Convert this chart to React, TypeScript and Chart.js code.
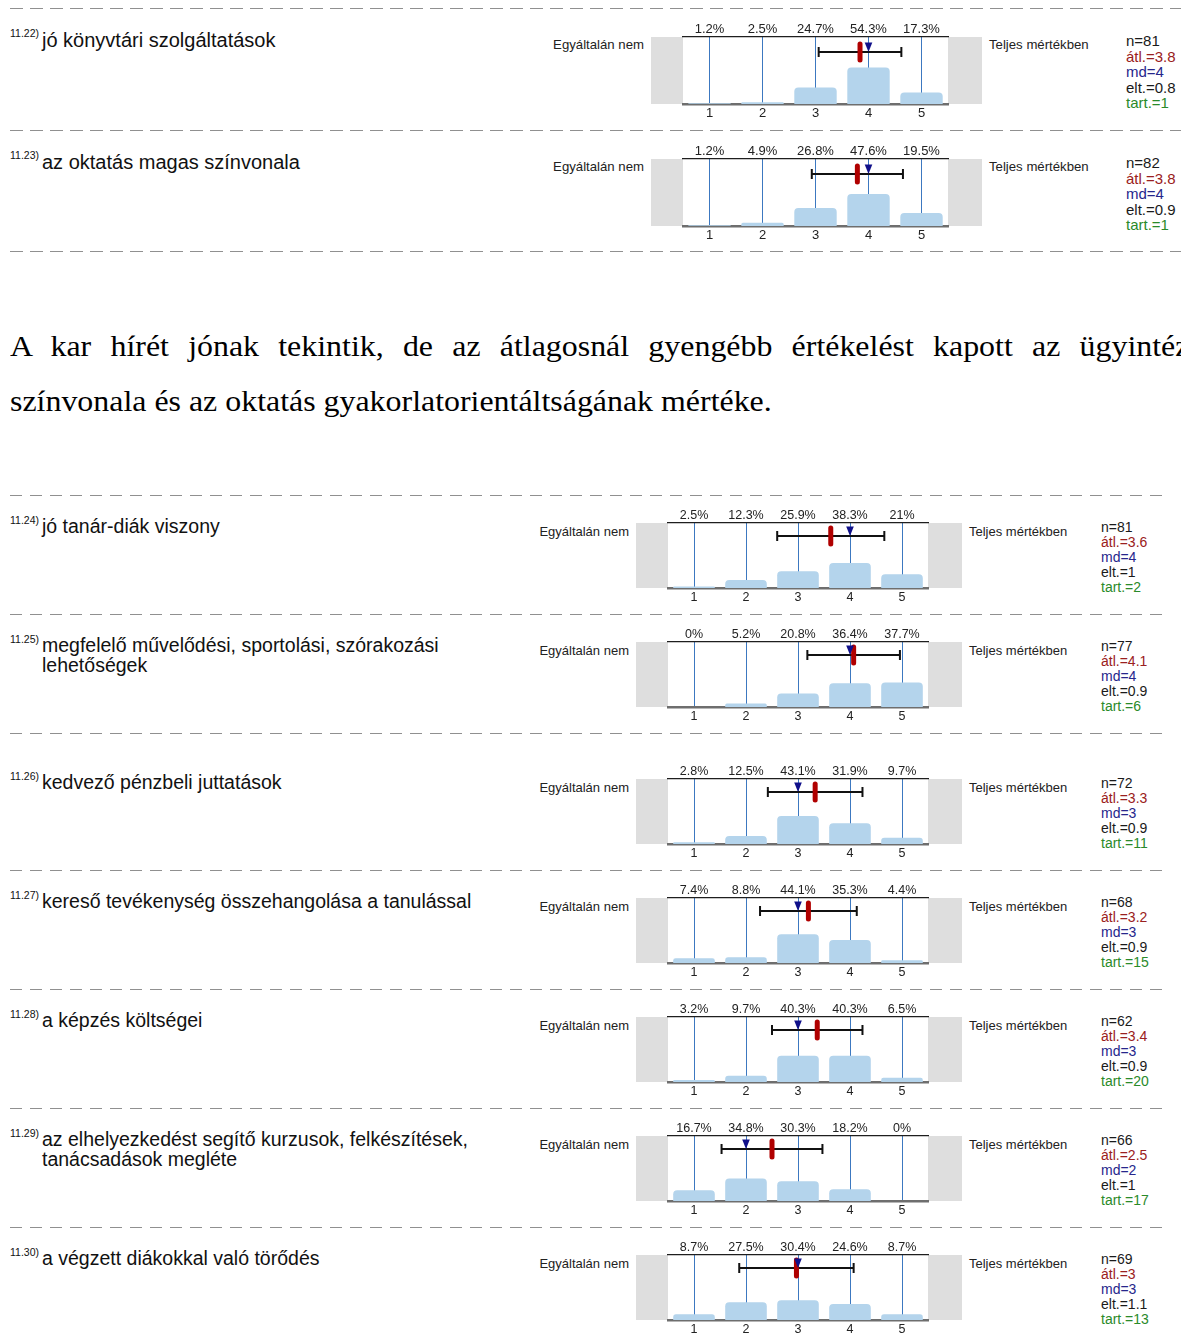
import React, { useEffect, useRef } from 'react';
import { Chart, registerables } from 'chart.js';

Chart.register(...registerables);

const SANS = "'Liberation Sans', Arial, sans-serif";
const SERIF = "'Liberation Serif', 'Times New Roman', serif";
Chart.defaults.font.family = SANS;

// ---------------- data ----------------
const itemCodes = ['11.22', '11.23', '11.24', '11.25', '11.26', '11.27', '11.28', '11.29', '11.30'];
const itemLabels: string[][] = [
  ['jó könyvtári szolgáltatások'],
  ['az oktatás magas színvonala'],
  ['jó tanár-diák viszony'],
  ['megfelelő művelődési, sportolási, szórakozási', 'lehetőségek'],
  ['kedvező pénzbeli juttatások'],
  ['kereső tevékenység összehangolása a tanulással'],
  ['a képzés költségei'],
  ['az elhelyezkedést segítő kurzusok, felkészítések,', 'tanácsadások megléte'],
  ['a végzett diákokkal való törődés'],
];
const scaleLabels = ['1', '2', '3', '4', '5'];
const leftAnchor = 'Egyáltalán nem';
const rightAnchor = 'Teljes mértékben';
const percents: number[][] = [
  [1.2, 2.5, 24.7, 54.3, 17.3],
  [1.2, 4.9, 26.8, 47.6, 19.5],
  [2.5, 12.3, 25.9, 38.3, 21],
  [0, 5.2, 20.8, 36.4, 37.7],
  [2.8, 12.5, 43.1, 31.9, 9.7],
  [7.4, 8.8, 44.1, 35.3, 4.4],
  [3.2, 9.7, 40.3, 40.3, 6.5],
  [16.7, 34.8, 30.3, 18.2, 0],
  [8.7, 27.5, 30.4, 24.6, 8.7],
];
const means = [3.84, 3.79, 3.63, 4.07, 3.33, 3.2, 3.37, 2.5, 2.97];
const sds = [0.78, 0.86, 1.03, 0.89, 0.91, 0.93, 0.87, 0.97, 1.1];
const medians = [4, 4, 4, 4, 3, 3, 3, 2, 3];
const nValues = [81, 82, 81, 77, 72, 68, 62, 66, 69];
const meanLabels = ['3.8', '3.8', '3.6', '4.1', '3.3', '3.2', '3.4', '2.5', '3'];
const medianLabels = ['4', '4', '4', '4', '3', '3', '3', '2', '3'];
const sdLabels = ['0.8', '0.9', '1', '0.9', '0.9', '0.9', '0.9', '1', '1.1'];
const abstainValues = [1, 1, 2, 6, 11, 15, 20, 17, 13];
const paragraphLine1 = 'A kar hírét jónak tekintik, de az átlagosnál gyengébb értékelést kapott az ügyintézés';
const paragraphLine2 = 'színvonala és az oktatás gyakorlatorientáltságának mértéke.';

// ---------------- layout (page px) ----------------
type Geom = {
  plotLeft: number; plotW: number; plotH: number; grayL: number; grayR: number;
  tickFont: number; errValue: number; statsX: number; statsFont: number; statsLH: number;
  anchorFont: number; labelDy: number; supDy: number; anchorDy: number; statsDy: number; labelSize: number;
};
const GEOM_TOP: Geom = {
  plotLeft: 683, plotW: 265, plotH: 67, grayL: 32, grayR: 34, tickFont: 13, errValue: 77.5,
  statsX: 1126, statsFont: 15, statsLH: 15.5, anchorFont: 13.2, labelDy: 9.7, supDy: -0.3, anchorDy: 12, statsDy: 9,
  labelSize: 20,
};
const GEOM_BOT: Geom = {
  plotLeft: 668, plotW: 260, plotH: 65, grayL: 32, grayR: 34, tickFont: 12.5, errValue: 80,
  statsX: 1101, statsFont: 14, statsLH: 15.2, anchorFont: 13, labelDy: 10, supDy: 0.5, anchorDy: 12.7, statsDy: 9,
  labelSize: 19.5,
};
const itemTops = [37, 159, 523, 642, 779, 898, 1017, 1136, 1255];
const topDashes = [8, 130, 251];
const botDashes = [495, 614, 733, 870, 989, 1108, 1227];
const AX_TOP = 18;
const AX_BOT = 18;
const OFF = 8; // body margin

const geomOf = (i: number) => (i < 2 ? GEOM_TOP : GEOM_BOT);

function topForBaseline(baseline: number, size: number, lh: number, asc = 0.905, desc = 0.212) {
  return baseline - ((lh - (asc + desc) * size) / 2 + asc * size);
}

const markerPlugin = {
  id: 'markers',
  beforeDraw(chart: any, _args: any, o: any) {
    const ca = chart.chartArea;
    const ctx = chart.ctx;
    ctx.save();
    ctx.fillStyle = '#dedede';
    ctx.fillRect(ca.left - o.grayL, ca.top, o.grayL, ca.bottom - ca.top);
    ctx.fillRect(ca.right, ca.top, o.grayR, ca.bottom - ca.top);
    ctx.restore();
  },
  afterDraw(chart: any, _args: any, o: any) {
    const xs = chart.scales.x;
    const ys = chart.scales.y;
    const ctx = chart.ctx;
    const y = ys.getPixelForValue(o.errValue);
    const x0 = xs.getPixelForValue(o.mean - o.sd - 1);
    const x1 = xs.getPixelForValue(o.mean + o.sd - 1);
    ctx.save();
    ctx.strokeStyle = '#111';
    ctx.lineWidth = 2;
    ctx.beginPath();
    ctx.moveTo(x0, y); ctx.lineTo(x1, y);
    ctx.moveTo(x0, y - 5); ctx.lineTo(x0, y + 5);
    ctx.moveTo(x1, y - 5); ctx.lineTo(x1, y + 5);
    ctx.stroke();
    const xm = xs.getPixelForValue(o.mean - 1);
    ctx.strokeStyle = '#b00000';
    ctx.lineWidth = 5;
    ctx.lineCap = 'round';
    ctx.beginPath();
    ctx.moveTo(xm, y - 8); ctx.lineTo(xm, y + 8);
    ctx.stroke();
    const xd = xs.getPixelForValue(o.median - 1);
    ctx.fillStyle = '#10108a';
    ctx.beginPath();
    ctx.moveTo(xd - 3.8, y - 9.5);
    ctx.lineTo(xd + 3.8, y - 9.5);
    ctx.lineTo(xd, y);
    ctx.closePath();
    ctx.fill();
    ctx.restore();
  },
};

function ItemChart({ i }: { i: number }) {
  const ref = useRef<HTMLCanvasElement>(null);
  const g = geomOf(i);
  const W = g.plotW + g.grayL + g.grayR + 12;
  const H = AX_TOP + g.plotH + AX_BOT;
  useEffect(() => {
    const pct = percents[i];
    const tickFont = { family: SANS, size: g.tickFont };
    const chart = new Chart(ref.current as HTMLCanvasElement, {
      type: 'bar',
      data: {
        labels: scaleLabels,
        datasets: [
          {
            data: pct,
            backgroundColor: 'rgb(180,212,236)',
            borderWidth: 0,
            borderRadius: { topLeft: 4, topRight: 4, bottomLeft: 0, bottomRight: 0 },
            borderSkipped: 'bottom',
            barPercentage: 0.8,
            categoryPercentage: 1,
          },
        ],
      },
      options: {
        responsive: false,
        animation: false,
        events: [],
        layout: { padding: { left: g.grayL + 6, right: g.grayR + 6, top: 0, bottom: 0 } },
        plugins: {
          legend: { display: false },
          tooltip: { enabled: false },
          markers: { mean: means[i], sd: sds[i], median: medians[i], errValue: g.errValue, grayL: g.grayL, grayR: g.grayR },
        } as any,
        scales: {
          x: {
            type: 'category',
            position: 'bottom',
            offset: true,
            z: 1,
            grid: { offset: false, color: '#3c78c0', lineWidth: 1, drawTicks: false },
            border: { display: true, color: '#6e6e6e', width: 2.5 },
            ticks: { padding: 2, color: '#222', font: tickFont, maxRotation: 0, minRotation: 0, autoSkip: false },
            afterFit: (s: any) => { s.height = AX_BOT; },
          },
          x2: {
            type: 'category',
            position: 'top',
            labels: pct.map((v) => `${v}%`),
            offset: true,
            grid: { display: false, drawTicks: false },
            border: { display: true, color: '#1e1e1e', width: 1.3 },
            ticks: { padding: 0, color: '#222', font: tickFont, maxRotation: 0, minRotation: 0, autoSkip: false },
            afterFit: (s: any) => { s.height = AX_TOP; },
          },
          y: { display: false, min: 0, max: 100 },
        } as any,
      },
      plugins: [markerPlugin as any],
    });
    return () => chart.destroy();
  }, [i]);
  return (
    <canvas
      ref={ref}
      width={W}
      height={H}
      style={{
        position: 'absolute',
        left: g.plotLeft - g.grayL - 6 - OFF,
        top: itemTops[i] - AX_TOP - OFF,
        width: W,
        height: H,
      }}
    />
  );
}

function ItemText({ i }: { i: number }) {
  const g = geomOf(i);
  const T = itemTops[i];
  const labelSize = g.labelSize;
  const labelLH = 20;
  const supSize = 10.5;
  const supLH = 12;
  const grayLeftX = g.plotLeft - g.grayL;
  const grayRightX = g.plotLeft + g.plotW + g.grayR;
  const anchorLH = 15;
  const statLines: [string, string][] = [
    [`n=${nValues[i]}`, '#1a1a1a'],
    [`átl.=${meanLabels[i]}`, '#9a2020'],
    [`md=${medianLabels[i]}`, '#26268c'],
    [`elt.=${sdLabels[i]}`, '#1a1a1a'],
    [`tart.=${abstainValues[i]}`, '#2a8a2a'],
  ];
  return (
    <>
      <div
        style={{
          position: 'absolute', left: 10 - OFF, top: topForBaseline(T + g.supDy, supSize, supLH) - OFF,
          fontSize: supSize, lineHeight: `${supLH}px`, color: '#111', whiteSpace: 'nowrap',
        }}
      >
        {itemCodes[i]})
      </div>
      <div
        style={{
          position: 'absolute', left: 42 - OFF, top: topForBaseline(T + g.labelDy, labelSize, labelLH) - OFF,
          fontSize: labelSize, lineHeight: `${labelLH}px`, color: '#111', whiteSpace: 'nowrap',
        }}
      >
        {itemLabels[i].map((l, k) => (
          <div key={k}>{l}</div>
        ))}
      </div>
      <div
        style={{
          position: 'absolute', left: grayLeftX - 7 - 200 - OFF, width: 200, textAlign: 'right',
          top: topForBaseline(T + g.anchorDy, g.anchorFont, anchorLH) - OFF,
          fontSize: g.anchorFont, lineHeight: `${anchorLH}px`, color: '#222', whiteSpace: 'nowrap',
        }}
      >
        {leftAnchor}
      </div>
      <div
        style={{
          position: 'absolute', left: grayRightX + 7 - OFF,
          top: topForBaseline(T + g.anchorDy, g.anchorFont, anchorLH) - OFF,
          fontSize: g.anchorFont, lineHeight: `${anchorLH}px`, color: '#222', whiteSpace: 'nowrap',
        }}
      >
        {rightAnchor}
      </div>
      <div
        style={{
          position: 'absolute', left: g.statsX - OFF,
          top: topForBaseline(T + g.statsDy, g.statsFont, g.statsLH) - OFF,
          fontSize: g.statsFont, lineHeight: `${g.statsLH}px`, whiteSpace: 'nowrap',
        }}
      >
        {statLines.map(([t, c], k) => (
          <div key={k} style={{ color: c }}>{t}</div>
        ))}
      </div>
    </>
  );
}

function Dash({ y, x0, x1, dash, gap }: { y: number; x0: number; x1: number; dash: number; gap: number }) {
  return (
    <div
      style={{
        position: 'absolute', left: x0 - OFF, top: y - OFF, width: x1 - x0, height: 1,
        backgroundImage: `repeating-linear-gradient(to right, #909090 0px, #909090 ${dash}px, transparent ${dash}px, transparent ${dash + gap}px)`,
      }}
    />
  );
}

export default function App() {
  useEffect(() => {
    document.documentElement.style.overflow = 'hidden';
  }, []);
  const paraSize = 29;
  const paraLH = 55;
  const paraScale = 1.1;
  const paraTop = topForBaseline(356.7, paraSize, paraLH, 0.891, 0.216);
  const paraWidth = (1216 - 10) / paraScale;
  const paraStyle: React.CSSProperties = {
    position: 'absolute', left: 10 - OFF, fontFamily: SERIF, fontSize: paraSize, lineHeight: `${paraLH}px`,
    color: '#000', transform: `scaleX(${paraScale})`, transformOrigin: 'left top', whiteSpace: 'nowrap',
  };
  return (
    <div
      style={{
        position: 'relative', width: 1181, height: 1334, marginBottom: -8, overflow: 'hidden',
        fontFamily: SANS, background: '#fff',
      }}
    >
      {topDashes.map((y, k) => (
        <Dash key={`t${k}`} y={y} x0={10} x1={1189} dash={13} gap={7} />
      ))}
      {botDashes.map((y, k) => (
        <Dash key={`b${k}`} y={y} x0={10} x1={1162} dash={12} gap={8} />
      ))}
      <div
        style={{
          ...paraStyle, top: paraTop - OFF, width: paraWidth, whiteSpace: 'normal',
          textAlign: 'justify', textAlignLast: 'justify' as any,
        }}
      >
        {paragraphLine1}
      </div>
      <div style={{ ...paraStyle, top: paraTop + paraLH - OFF }}>{paragraphLine2}</div>
      {itemCodes.map((_, i) => (
        <React.Fragment key={i}>
          <ItemText i={i} />
          <ItemChart i={i} />
        </React.Fragment>
      ))}
    </div>
  );
}
